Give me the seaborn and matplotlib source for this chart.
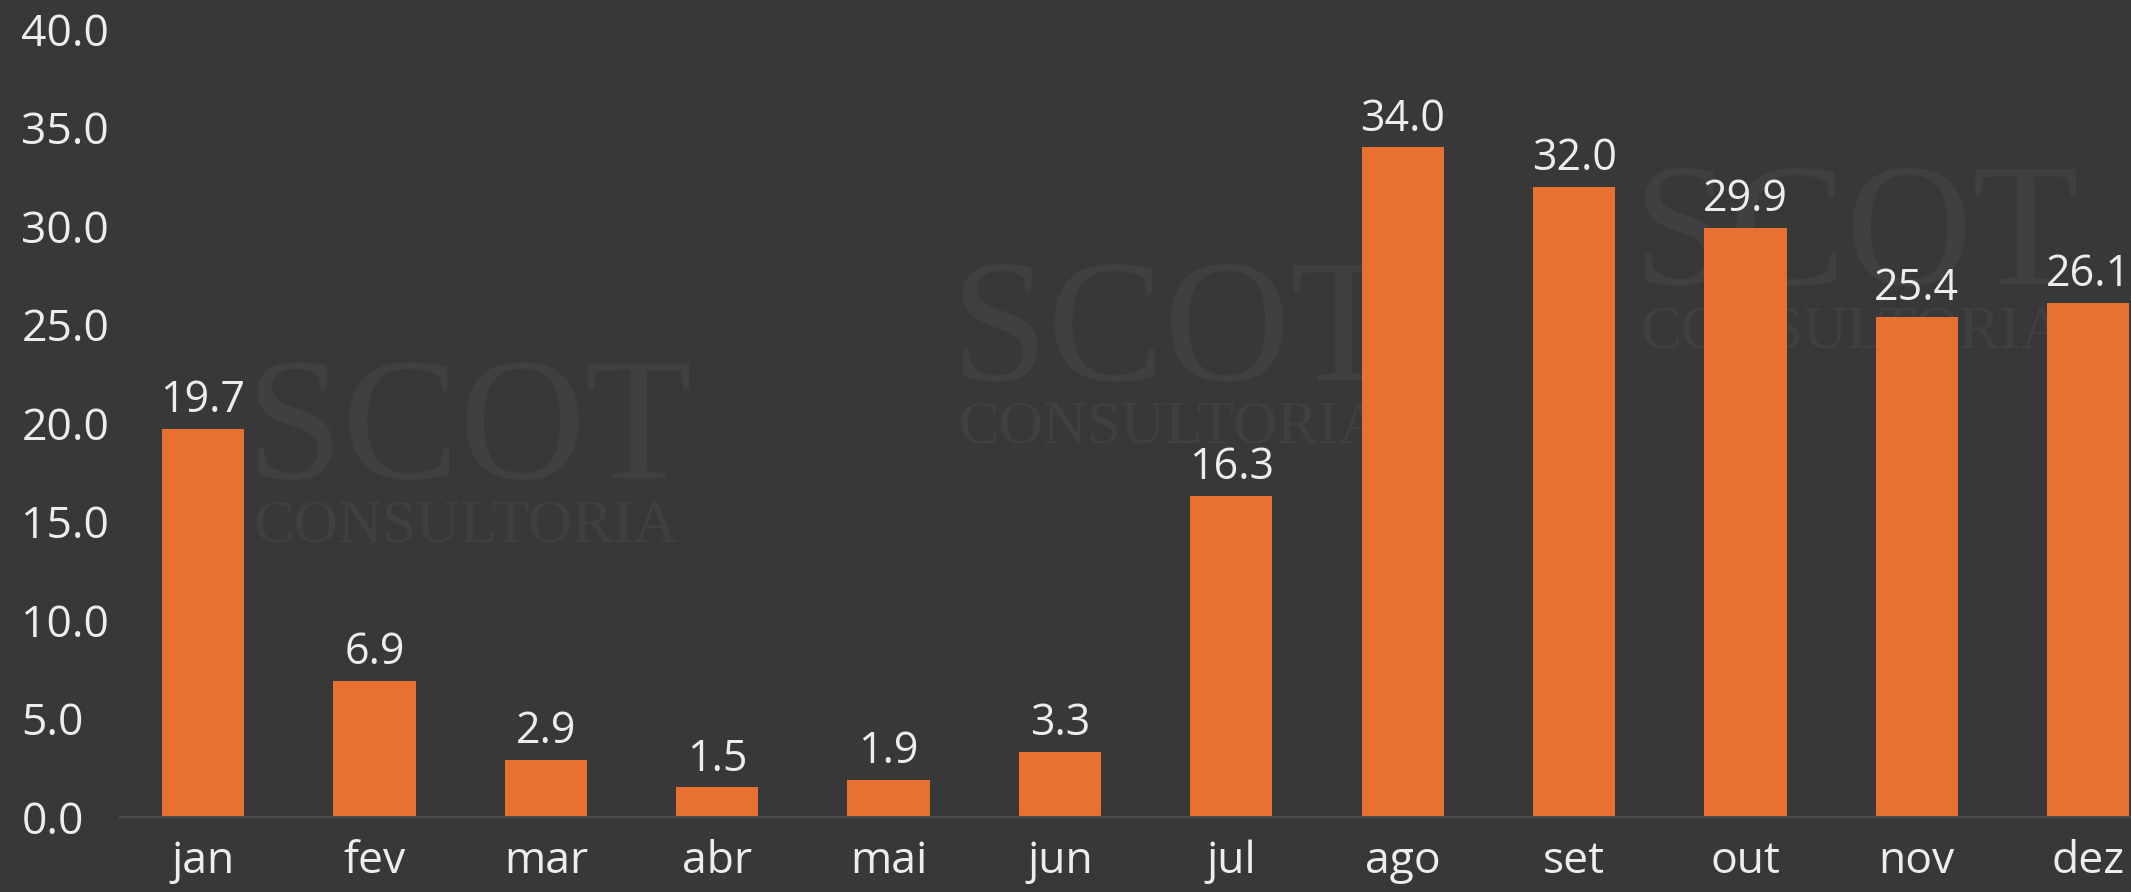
import pandas as pd
import matplotlib
matplotlib.use('Agg')
import matplotlib.pyplot as plt
import seaborn as sns

# data
months = ['jan', 'fev', 'mar', 'abr', 'mai', 'jun', 'jul', 'ago', 'set', 'out', 'nov', 'dez']
values = [19.7, 6.9, 2.9, 1.5, 1.9, 3.3, 16.3, 34.0, 32.0, 29.9, 25.4, 26.1]
y_ticks = [0, 5, 10, 15, 20, 25, 30, 35, 40]

df = pd.DataFrame({'mes': months, 'valor': values})

bg = '#383838'
bar_color = '#E87030'
txt = '#EDEDED'
wm = '#404040'

sns.set_style('dark')
plt.rcParams['font.family'] = ['Open Sans', 'DejaVu Sans']

fig = plt.figure(figsize=(21.31, 8.92), dpi=100, facecolor=bg)
ax = fig.add_axes([0.0563, 0.0841, 0.9437, 0.8834])
ax.set_facecolor(bg)

# faint watermark, behind the bars
for (x, y) in [(0.115, 0.512), (0.446, 0.622), (0.766, 0.729)]:
    ax.text(x, y, 'SCOT', fontsize=126, color=wm, family='Liberation Serif',
            ha='left', va='center', transform=fig.transFigure, zorder=0)
    ax.text(x + 0.004, y - 0.102, 'CONSULTORIA', fontsize=44, color=wm,
            family='Liberation Serif', ha='left', va='center',
            transform=fig.transFigure, zorder=0)

sns.barplot(data=df, x='mes', y='valor', color=bar_color, saturation=1,
            width=0.48, edgecolor=bar_color, linewidth=0, ax=ax, zorder=2)

for c in ax.containers:
    ax.bar_label(c, labels=[f'{v:.1f}' for v in values], padding=4,
                 fontsize=31, color=txt, clip_on=False, zorder=3)

ax.set_ylim(0, 40)
ax.set_xlim(-0.485, 11.25)
ax.set_yticks(y_ticks)
ax.set_yticklabels([f'{t:.1f}' for t in y_ticks], ha='left')
ax.tick_params(axis='y', length=0, pad=71, labelsize=32, labelcolor=txt)
ax.tick_params(axis='x', length=0, pad=16, labelsize=32, labelcolor=txt)
ax.set_xlabel('')
ax.set_ylabel('')
ax.grid(False)
for s in ['top', 'right', 'left']:
    ax.spines[s].set_visible(False)
ax.spines['bottom'].set_color('#4d4d4d')
ax.spines['bottom'].set_linewidth(1.5)

plt.savefig('out.png', dpi=100, facecolor=bg)
